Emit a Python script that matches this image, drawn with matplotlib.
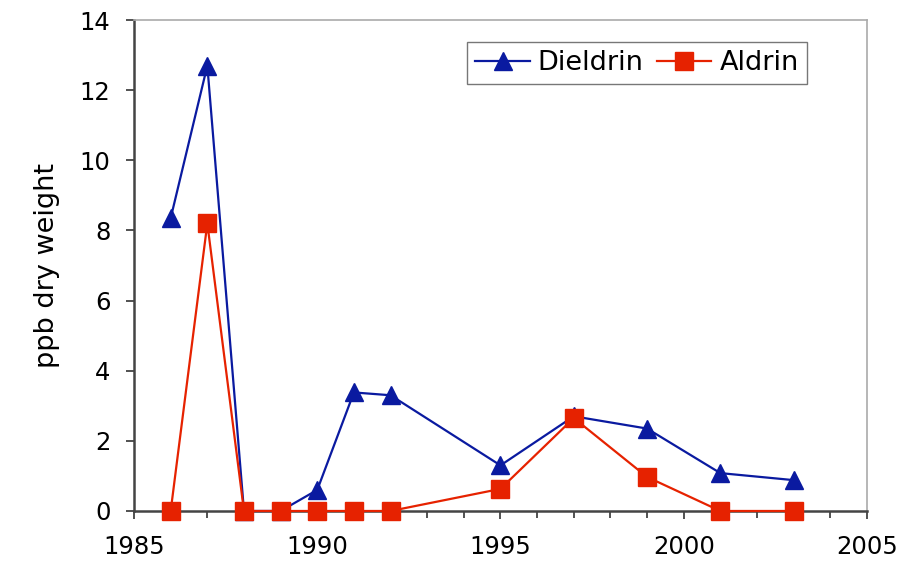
import matplotlib
matplotlib.use("Agg")
import matplotlib.pyplot as plt
from matplotlib.ticker import MultipleLocator

# values
years = [1986, 1987, 1988, 1989, 1990, 1991, 1992, 1995, 1997, 1999, 2001, 2003]
dieldrin = [8.35, 12.7, 0, 0, 0.6, 3.38, 3.3, 1.3, 2.7, 2.35, 1.08, 0.88]
aldrin = [0, 8.2, 0, 0, 0, 0, 0, 0.63, 2.65, 0.97, 0, 0]

blue = '#0A1AA0'
red = '#E62200'

plt.rcParams['font.family'] = ['DejaVu Sans']
fig = plt.figure(figsize=(9.02, 5.65), dpi=100)
ax = fig.add_axes([0.1486, 0.0956, 0.8125, 0.869])

ax.plot(years, dieldrin, color=blue, lw=1.6, marker='^', markersize=13,
        label='Dieldrin', clip_on=False, zorder=3)
ax.plot(years, aldrin, color=red, lw=1.6, marker='s', markersize=12.5,
        label='Aldrin', clip_on=False, zorder=4)

ax.set_xlim(1985, 2005)
ax.set_ylim(0, 14)
ax.xaxis.set_major_locator(MultipleLocator(5))
ax.xaxis.set_minor_locator(MultipleLocator(1))
ax.yaxis.set_major_locator(MultipleLocator(2))
ax.tick_params(axis='both', which='major', labelsize=17.5, length=6, width=1.2,
               direction='out', color='#333333')
ax.tick_params(axis='x', which='minor', length=5, width=1.2, direction='out',
               color='#333333')
ax.tick_params(axis='x', which='major', pad=11)
ax.tick_params(axis='y', which='major', pad=11)

ax.set_ylabel('ppb dry weight', fontsize=19.5, labelpad=14)

for side in ['left', 'bottom']:
    ax.spines[side].set_color('#444444')
    ax.spines[side].set_linewidth(1.8)
for side in ['top', 'right']:
    ax.spines[side].set_color('#aaaaaa')
    ax.spines[side].set_linewidth(1.2)

leg = ax.legend(loc='upper right', bbox_to_anchor=(0.918, 0.955), ncol=2,
                fontsize=19.5, frameon=True, fancybox=False, borderpad=0.3,
                handlelength=2.0, handletextpad=0.3, columnspacing=0.5,
                borderaxespad=0)
leg.get_frame().set_edgecolor('#555555')
leg.get_frame().set_linewidth(1.0)

fig.savefig('out.png', dpi=100)
